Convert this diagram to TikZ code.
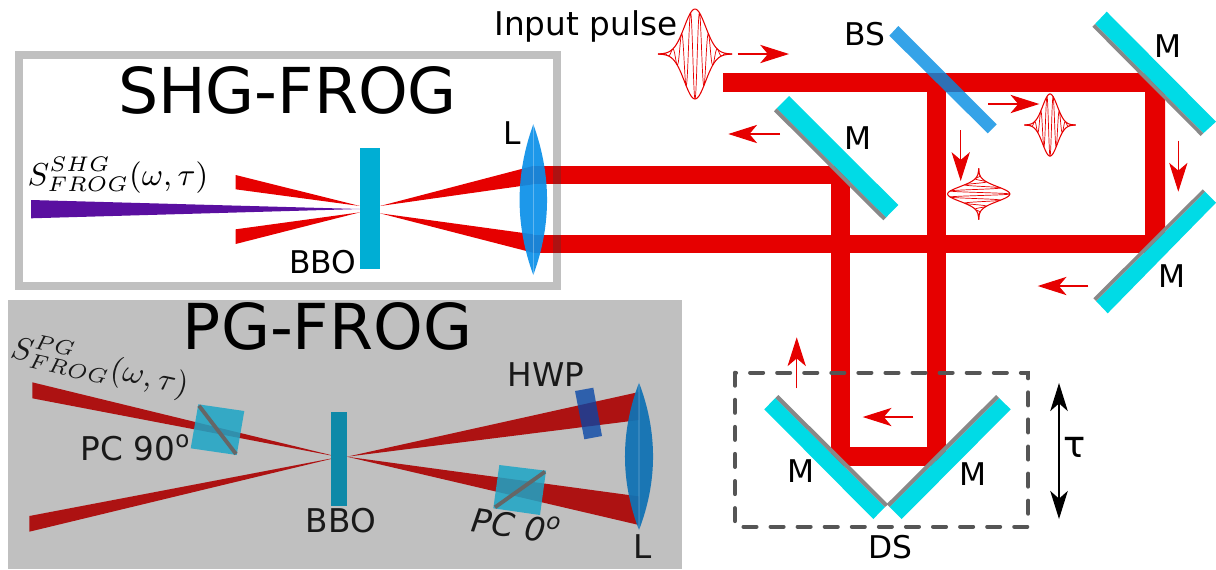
\documentclass[tikz,border=0pt]{standalone}
\usepackage{fontspec}
\setmainfont{DejaVu Sans}
\usetikzlibrary{arrows.meta}
\definecolor{beamred}{HTML}{E60000}
\definecolor{beamdark}{HTML}{AD1212}
\definecolor{mirrorcyan}{HTML}{00DBE6}
\definecolor{mirrorgray}{HTML}{888888}
\definecolor{panelgray}{HTML}{C0C0C0}
\definecolor{splitblue}{HTML}{028CE2}
\definecolor{lensblue}{HTML}{0A8FE8}
\definecolor{lensdark}{HTML}{1072B4}
\definecolor{cubeblue}{HTML}{1CA6C7}
\definecolor{plateblue}{HTML}{0645A7}
\definecolor{signalpurple}{HTML}{5A0FA0}
\definecolor{boxgray}{HTML}{555555}
\definecolor{crystal}{HTML}{00AED4}
\definecolor{crystaldark}{HTML}{0E89A8}
\tikzset{
  tag/.style={font=\fontsize{8.9}{10}\selectfont,inner sep=0pt,anchor=base},
  darktag/.style={tag,text=black!90,font=\fontsize{9.3}{10}\selectfont},
  title/.style={font=\fontsize{18}{20}\selectfont,inner sep=0pt,anchor=base},
  formula/.style={font=\fontsize{9}{11}\selectfont,inner sep=0pt,anchor=base},
  travel/.style={draw=beamred,line width=0.3pt,-{Stealth[length=8.2pt,width=5.2pt,inset=2.2pt]}},
  pulse/.pic={
    \draw[beamred,line width=0.2pt] plot[domain=-37:37,samples=420] (\x,{45*exp(-(\x/15)^2)*cos(360*\x/9)});
    \draw[beamred,line width=0.3pt] plot[domain=-37:37,samples=60] (\x,{45*exp(-(\x/15)^2)});
    \draw[beamred,line width=0.3pt] plot[domain=-37:37,samples=60] (\x,{-45*exp(-(\x/15)^2)});
  }
}

\begin{document}
\begin{tikzpicture}[x=0.01cm,y=-0.01cm]
\useasboundingbox (0,0) rectangle (1216,569);

% PG-FROG %
\fill[panelgray] (8,300) rectangle (682,569);
\node[title] (pgtitle) at (327.5,349) {PG-FROG};

\fill[beamdark] (32.3,382.3)--(339,457)--(32.3,398.3)--cycle;
\fill[beamdark] (29.3,516)--(339,457)--(29.3,531.7)--cycle;
\fill[beamdark] (347,456.7)--(639,392)--(639,420)--cycle;
\fill[beamdark] (347,456.7)--(639,496.4)--(639,525)--cycle;

\fill[crystaldark] (331,411.7) rectangle (347,505.7);

% cubes and plate
\fill[cubeblue,opacity=0.85] (198.3,404.3)--(244.3,411)--(236.7,455)--(190.7,448.3)--cycle;
\draw[black!60,line width=1.1pt] (199,405.7)--(236,454);
\fill[cubeblue,opacity=0.85] (499.3,465)--(546,470.7)--(540,515)--(493.3,508.3)--cycle;
\draw[black!60,line width=1.1pt] (495,507.3)--(545,471.7);
\fill[plateblue,opacity=0.78] (575,391)--(593.3,387.7)--(602,436)--(584.3,439.3)--cycle;

\fill[lensdark,opacity=0.94] (639,382.7) .. controls (657.7,432) and (657.7,481) .. (639,530) .. controls (620.3,481) and (620.3,432) .. (639,382.7)--cycle;
\draw[white,opacity=0.12,line width=0.3pt] (639,383)--(639,530);

\node[formula,rotate=-12,text=black!90] (pgsignal) at (98,376) {\(S^{PG}_{FROG}(\omega,\tau)\)};
\node[darktag] (pcninety) at (136,460.7) {PC 90\textsuperscript{o}};
\node[darktag] (pgbbo) at (341,532) {BBO};
\node[darktag] (hwp) at (546,386.7) {HWP};
\node[darktag] (pgl) at (643,558) {L};
\node[darktag,rotate=-8,font=\fontsize{9.3}{10}\selectfont\itshape] (pczero) at (515,538) {PC 0\textsuperscript{o}};

% SHG-FROG %
\draw[panelgray,line width=2.3pt] (19,55) rectangle (557,286);
\node[title] (shgtitle) at (287.5,113) {SHG-FROG};

\fill[beamred] (360,206)--(235.6,175)--(235.6,189.3)--cycle;
\fill[beamred] (360,212.3)--(235.6,229.3)--(235.6,244)--cycle;
\fill[signalpurple] (31,200)--(360,209)--(31,218.3)--cycle;
\fill[beamred] (380,206)--(533,166)--(533,184.3)--cycle;
\fill[beamred] (380,213.3)--(533,234.3)--(533,252.7)--cycle;

% main beams
\fill[beamred] (533,166) rectangle (831,184.3);
\fill[beamred] (533,234.5) rectangle (1153,252.7);
\fill[beamred] (723,73) rectangle (1150,92);
\fill[beamred] (1145,73)--(1150,73)--(1165,88)--(1165,240)--(1153,252.7)--(1145,252.7)--cycle;
\fill[beamred] (926.5,73) rectangle (945.7,466);
\fill[beamred] (831,166) rectangle (850,466);
\fill[beamred] (831,447) rectangle (945.7,466);

% beams through the border
\fill[beamdark] (552.7,166) rectangle (561,184.3);
\fill[beamdark] (552.7,234.5) rectangle (561,252.7);

\fill[crystal] (360,148) rectangle (380,269);

\fill[lensblue,opacity=0.92] (533.3,124.3) .. controls (551.6,175) and (551.6,225) .. (533.3,275) .. controls (515,225) and (515,175) .. (533.3,124.3)--cycle;
\draw[white,opacity=0.3,line width=0.3pt] (533.3,125)--(533.3,275);

\node[formula] (shgsignal) at (118,185) {\(S^{SHG}_{FROG}(\omega,\tau)\)};
\node[tag] (shgbbo) at (323,273) {BBO};
\node[tag] (shgl) at (512,144) {L};

% mirrors %
\foreach \ax/\ay/\bx/\by/\cx/\cy/\dx/\dy/\ex/\ey/\fx/\fy in {
  789/96/898.3/205/886/217.5/776.7/108.3/883.3/220.3/774/111.3,
  1106.7/11.7/1216/121.7/1203.3/133.3/1095/24/1200.7/136/1092.3/26.7,
  1216/202.7/1107.7/313.3/1096/301/1205/191.7/1093.3/298.3/1202.7/189.3,
  764.3/409.3/873.3/519/885/507/775.3/398/888.3/504.3/778.3/395,
  1010.7/409.3/901.7/519/889.5/507/999/398/886.7/504/996/395}
{
  \fill[mirrorcyan] (\ax,\ay)--(\bx,\by)--(\cx,\cy)--(\dx,\dy)--cycle;
  \fill[mirrorgray] (\dx,\dy)--(\cx,\cy)--(\ex,\ey)--(\fx,\fy)--cycle;
}

% beam splitter
\fill[splitblue,opacity=0.8] (898.3,26)--(996.7,124.3)--(987.7,133.3)--(889.3,35.7)--cycle;

% delay stage
\draw[boxgray,line width=1.15pt,line cap=round,dash pattern=on 3.7pt off 4pt] (735,372.7) rectangle (1028.3,526.7);
\draw[black,line width=0.4pt,{Stealth[length=8pt,width=5pt,inset=2.2pt]}-{Stealth[length=8pt,width=5pt,inset=2.2pt]}] (1059,383)--(1059,519);

% pulses
\pic at (695,54) {pulse};
\pic[scale=0.69] at (1050,125) {pulse};
\pic[rotate=90,scale=0.69] at (978.7,194) {pulse};

% arrows
\draw[travel] (737.7,54)--(789,54);
\draw[travel] (780,134)--(728.3,134);
\draw[travel] (988.3,104)--(1039.3,104);
\draw[travel] (960.7,130)--(960.7,181);
\draw[travel] (1178.3,140.7)--(1178.3,191.7);
\draw[travel] (1088.3,286)--(1037.7,286);
\draw[travel] (796.7,388.3)--(796.7,337.3);
\draw[travel] (913.3,417)--(862.7,417);

% labellings
\node[tag,font=\fontsize{9.3}{11}\selectfont] (inputlabel) at (586,35) {Input pulse};
\node[tag] (bslabel) at (865,45) {BS};
\node[tag] (mone) at (858,149) {M};
\node[tag] (mtwo) at (1168,57) {M};
\node[tag] (mthree) at (1172,287) {M};
\node[tag] (mfour) at (801,482) {M};
\node[tag] (mfive) at (973,485) {M};
\node[tag] (dslabel) at (890,558) {DS};
\node[tag,font=\fontsize{10.5}{12}\selectfont] (taulabel) at (1075,457) {τ};

\end{tikzpicture}
\end{document}
